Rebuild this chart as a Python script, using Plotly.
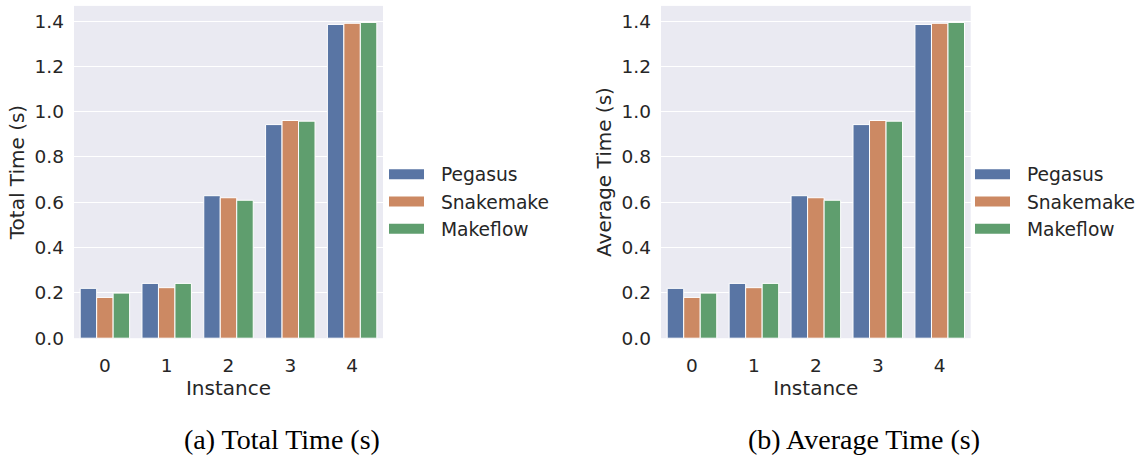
import plotly.graph_objects as go

instances = ["0", "1", "2", "3", "4"]
series_names = ["Pegasus", "Snakemake", "Makeflow"]
pegasus = [0.220, 0.242, 0.629, 0.943, 1.385]
snakemake = [0.180, 0.223, 0.620, 0.961, 1.390]
makeflow = [0.199, 0.242, 0.609, 0.958, 1.394]
y_ticks = [0.0, 0.2, 0.4, 0.6, 0.8, 1.0, 1.2, 1.4]
panel_ylabels = ["Total Time (s)", "Average Time (s)"]
captions = ["(a) Total Time (s)", "(b) Average Time (s)"]

colors = ["#5975A4", "#CC8963", "#5F9E6E"]
values = [pegasus, snakemake, makeflow]

W, H = 1141, 461
TXT = "#262626"
FONT = "DejaVu Sans"

fig = go.Figure()

x_domains = [[74 / W, 383 / W], [661 / W, 970.7 / W]]
y_domain = [1 - 345.7 / H, 1 - 6 / H]
legend_x = [384 / W, 970 / W]

for p in range(2):
    xa = "x" if p == 0 else "x2"
    ya = "y" if p == 0 else "y2"
    lg = "legend" if p == 0 else "legend2"
    for name, vals, c in zip(series_names, values, colors):
        fig.add_trace(go.Bar(
            x=instances, y=vals, name=name, xaxis=xa, yaxis=ya,
            marker=dict(color=c, line=dict(color="white", width=1)),
            showlegend=False, offsetgroup=name,
        ))
    for name, c in zip(series_names, colors):
        fig.add_trace(go.Scatter(
            x=[None], y=[None], name="\u00a0\u00a0" + name, xaxis=xa, yaxis=ya,
            mode="lines", line=dict(color=c, width=11), legend=lg, showlegend=True,
        ))

axis_common = dict(
    showgrid=True, gridcolor="white", gridwidth=1.3, zeroline=False,
    showline=False, ticks="", color=TXT,
)
for p in range(2):
    sfx = "" if p == 0 else "2"
    fig.update_layout(**{
        f"xaxis{sfx}": dict(
            domain=x_domains[p], anchor="y" + sfx, type="category",
            range=[-0.5, 4.5], showgrid=False, zeroline=False, showline=False,
            ticks="", tickfont=dict(size=18.5, color=TXT, family=FONT),
            ticklabelstandoff=14,
            title=dict(text="Instance", font=dict(size=20, color=TXT, family=FONT), standoff=6),
        ),
        f"yaxis{sfx}": dict(
            domain=y_domain, anchor="x" + sfx, range=[0, 1.467],
            tickvals=y_ticks, ticktext=[f"{v:.1f}" for v in y_ticks],
            tickfont=dict(size=18.5, color=TXT, family=FONT),
            ticklabelstandoff=9,
            title=dict(text=panel_ylabels[p], font=dict(size=20, color=TXT, family=FONT), standoff=4),
            **axis_common,
        ),
    })

legend_common = dict(
    font=dict(size=18.7, color=TXT, family=FONT), bgcolor="rgba(0,0,0,0)",
    yanchor="middle", y=1 - 206 / H, xanchor="left", itemwidth=35,
    tracegroupgap=0, traceorder="normal",
)
fig.update_layout(
    legend=dict(x=legend_x[0], **legend_common),
    legend2=dict(x=legend_x[1], **legend_common),
)

for p, cap in enumerate(captions):
    cx = [281.7, 863.7][p]
    fig.add_annotation(
        text=cap, xref="paper", yref="paper", x=cx / W, y=1 - 449 / H,
        xanchor="center", yanchor="middle", showarrow=False,
        font=dict(family="Liberation Serif", size=28, color="black"),
    )

fig.update_layout(
    width=W, height=H, margin=dict(l=0, r=0, t=0, b=0),
    paper_bgcolor="white", plot_bgcolor="#EAEAF2",
    barmode="group", bargap=0.2, bargroupgap=0,
    font=dict(family=FONT, color=TXT),
)

fig.write_html("out.html")
